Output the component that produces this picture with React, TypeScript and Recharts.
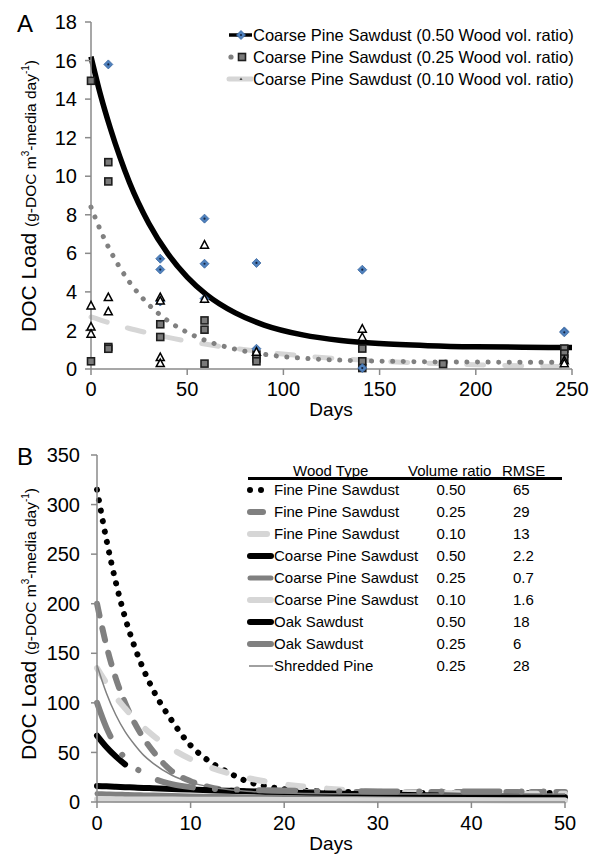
import React from 'react';
import { ComposedChart, Line, Scatter, XAxis, YAxis } from 'recharts';

const FONT = '"Liberation Sans", Arial, sans-serif';
const AXIS = '#8a8a8a';
const GRAY = '#808080';
const LIGHT = '#d6d6d6';

// ---- panel A: fitted curves (days / g-DOC m-3 day-1)
const fitDaysA = [0, 5, 10, 15, 20, 30, 40, 50, 60, 75, 90, 110, 130, 150, 175, 200, 225, 250];
const fitCoarse050 = [16.2, 14.2, 12.5, 11.0, 9.67, 7.56, 5.97, 4.77, 3.86, 2.91, 2.28, 1.77, 1.48, 1.32, 1.21, 1.15, 1.13, 1.11];
const fitCoarse025 = [8.4, 7.18, 6.14, 5.26, 4.51, 3.34, 2.5, 1.9, 1.46, 1.03, 0.76, 0.56, 0.46, 0.41, 0.37, 0.36, 0.35, 0.35];
const fitCoarse010 = [2.7, 2.54, 2.38, 2.24, 2.1, 1.86, 1.64, 1.45, 1.28, 1.06, 0.88, 0.68, 0.53, 0.41, 0.3, 0.22, 0.16, 0.12];

// ---- panel A: measurements
const obs050Days = [9, 36, 36, 36, 59, 59, 59, 86, 86, 141, 141, 246, 246];
const obs050Load = [15.8, 5.72, 5.16, 3.5, 7.8, 5.46, 3.65, 5.5, 1.05, 5.15, 0.05, 1.95, 1.9];
const obs025Days = [0, 0, 9, 9, 9, 9, 36, 36, 59, 59, 59, 86, 86, 86, 141, 141, 141, 183, 246, 246, 246];
const obs025Load = [14.95, 0.4, 10.73, 9.73, 1.14, 1.05, 2.32, 1.66, 2.52, 2.04, 0.28, 0.75, 0.55, 0.4, 1.06, 0.4, 0.05, 0.26, 1.06, 0.8, 0.54];
const obs010Days = [0, 0, 0, 9, 9, 36, 36, 36, 36, 59, 59, 86, 141, 141, 246, 246];
const obs010Load = [3.3, 2.2, 1.83, 3.73, 2.99, 3.73, 3.55, 0.62, 0.31, 6.45, 3.65, 0.9, 2.09, 1.66, 0.45, 0.3];

const ticksA = [0, 50, 100, 150, 200, 250];
const loadTicksA = [0, 2, 4, 6, 8, 10, 12, 14, 16, 18];

// ---- panel B: fitted curves
const fitDaysB = [0, 1, 2, 3, 4, 5, 6, 8, 10, 12, 14, 16, 18, 20, 25, 30, 35, 40, 45, 50];
const finePine050 = [315, 265, 222, 186, 157, 133, 113, 82, 57, 41, 30, 21, 16, 13, 10.5, 9.5, 9, 9, 9, 9];
const finePine025 = [200, 158, 125, 100, 80, 64, 51, 31, 21, 15, 12, 11, 10.5, 10, 10, 10, 10, 10, 10, 10];
const finePine010 = [135, 120, 106, 94.5, 84, 75, 67, 53.6, 43.3, 35.3, 29.2, 24.4, 20.7, 17.8, 13.2, 10.7, 9.4, 8.8, 8.4, 8.2];
const coarsePine050 = [16.2, 15.8, 15.4, 15.0, 14.6, 14.2, 13.9, 13.2, 12.5, 11.9, 11.3, 10.8, 10.2, 9.67, 8.55, 7.56, 6.7, 5.97, 5.33, 4.77];
const coarsePine025 = [8.4, 8.14, 7.88, 7.64, 7.4, 7.18, 6.96, 6.54, 6.14, 5.78, 5.43, 5.12, 4.81, 4.51, 3.88, 3.34, 2.88, 2.5, 2.17, 1.9];
const coarsePine010 = [2.7, 2.67, 2.63, 2.6, 2.57, 2.54, 2.5, 2.44, 2.38, 2.32, 2.27, 2.21, 2.16, 2.1, 1.98, 1.86, 1.75, 1.64, 1.54, 1.45];
const oak050 = [67, 55.5, 46, 38, null, null, null, null, null, null, null, null, null, null, null, null, null, null, null, null];
const oak025 = [100, 75, 57, 44, 35, 29, 24, 18, 15, 13.5, 12.8, 12.2, 11.8, 11.5, 11, 10.7, 10.5, 10.5, 10.5, 10.5];
const shredded025 = [138, 110, 88, 71, 58, 47, 39, 27, 19.8, 15.3, 12.5, 10.8, 9.7, 9.1, 8.3, 8, 8, 8, 8, 8];

const ticksB = [0, 10, 20, 30, 40, 50];
const loadTicksB = [0, 50, 100, 150, 200, 250, 300, 350];

const woodTypes = ['Fine Pine Sawdust', 'Fine Pine Sawdust', 'Fine Pine Sawdust', 'Coarse Pine Sawdust', 'Coarse Pine Sawdust', 'Coarse Pine Sawdust', 'Oak Sawdust', 'Oak Sawdust', 'Shredded Pine'];
const volumeRatios = ['0.50', '0.25', '0.10', '0.50', '0.25', '0.10', '0.50', '0.25', '0.25'];
const rmse = ['65', '29', '13', '2.2', '0.7', '1.6', '18', '6', '28'];

const curveA = fitDaysA.map((day, i) => ({ day, c050: fitCoarse050[i], c025: fitCoarse025[i], c010: fitCoarse010[i] }));
const pts = (days: number[], loads: number[]) => days.map((day, i) => ({ day, load: loads[i] }));
const curveB = fitDaysB.map((day, i) => ({
  day,
  f050: finePine050[i], f025: finePine025[i], f010: finePine010[i],
  c050: coarsePine050[i], c025: coarsePine025[i], c010: coarsePine010[i],
  o050: oak050[i], o025: oak025[i], s025: shredded025[i],
}));

// line styles for panel B, in legend order
const seriesB = [
  { key: 'f050', stroke: '#000', width: 6, dash: '0.1 10.5', cap: 'round' },
  { key: 'f025', stroke: GRAY, width: 6, dash: '12 13', cap: 'round' },
  { key: 'f010', stroke: LIGHT, width: 6, dash: '15 24', cap: 'round' },
  { key: 'c050', stroke: '#000', width: 6, dash: undefined, cap: 'round' },
  { key: 'c025', stroke: GRAY, width: 5, dash: undefined, cap: 'round' },
  { key: 'c010', stroke: LIGHT, width: 6, dash: undefined, cap: 'round' },
  { key: 'o050', stroke: '#000', width: 6, dash: undefined, cap: 'round' },
  { key: 'o025', stroke: GRAY, width: 6, dash: '36 22 0.1 22 0.1 22', cap: 'round' },
  { key: 's025', stroke: GRAY, width: 1.5, dash: undefined, cap: 'butt' },
];

const Diamond = (p: any) => (
  <g>
    <polygon points={`${p.cx},${p.cy - 4.5} ${p.cx + 4.5},${p.cy} ${p.cx},${p.cy + 4.5} ${p.cx - 4.5},${p.cy}`} fill="#4f81bd" stroke="#3b67a0" strokeWidth={0.8} />
    <circle cx={p.cx} cy={p.cy} r={1.1} fill="#15233f" />
  </g>
);
const Square = (p: any) => (
  <rect x={p.cx - 3.5} y={p.cy - 3.5} width={7} height={7} fill="#7a7a7a" stroke="#1e1e1e" strokeWidth={1.6} />
);
const Triangle = (p: any) => (
  <polygon points={`${p.cx},${p.cy - 4} ${p.cx + 4},${p.cy + 3.5} ${p.cx - 4},${p.cy + 3.5}`} fill="#fff" stroke="#000" strokeWidth={1.5} />
);

const axisLine = { stroke: AXIS, strokeWidth: 1.5 };
const tickStyle = { fill: '#000', fontSize: 20, fontFamily: FONT };

const YLabel = ({ x, y }: { x: number; y: number }) => (
  <div style={{ position: 'absolute', left: x, top: y, transform: 'translate(-50%, -50%) rotate(-90deg)', whiteSpace: 'nowrap', fontFamily: FONT, fontSize: 21, lineHeight: 1 }}>
    DOC Load <span style={{ fontSize: 15.5 }}>(g-DOC m<sup style={{ fontSize: 10 }}>3</sup>-media day<sup style={{ fontSize: 10 }}>-1</sup>)</span>
  </div>
);

const text = (s: string, left: number, top: number, size: number, extra: React.CSSProperties = {}) => (
  <div style={{ position: 'absolute', left, top, fontFamily: FONT, fontSize: size, lineHeight: 1, whiteSpace: 'nowrap', ...extra }}>{s}</div>
);

const legendA = [
  {
    label: 'Coarse Pine Sawdust (0.50 Wood vol. ratio)',
    icon: (
      <g>
        <line x1={3} y1={11} x2={26} y2={11} stroke="#000" strokeWidth={3.5} />
        <Diamond cx={15} cy={11} />
      </g>
    ),
  },
  {
    label: 'Coarse Pine Sawdust (0.25 Wood vol. ratio)',
    icon: (
      <g>
        <circle cx={5} cy={11} r={2.6} fill={GRAY} />
        <Square cx={16} cy={11} />
      </g>
    ),
  },
  {
    label: 'Coarse Pine Sawdust (0.10 Wood vol. ratio)',
    icon: (
      <g>
        <line x1={3} y1={11} x2={26} y2={11} stroke={LIGHT} strokeWidth={5} strokeLinecap="round" />
        <polygon points="15,9.5 16.5,12 13.5,12" fill="#444" />
      </g>
    ),
  },
];

const legendIconB = (i: number) => {
  const s = seriesB[i];
  if (i === 0) return (<g><circle cx={3} cy={11} r={3} fill="#000" /><circle cx={14} cy={11} r={3} fill="#000" /></g>);
  const x2 = i === 1 ? 16 : i === 2 ? 20 : i === 8 ? 26 : 24;
  return <line x1={i === 8 ? 2 : 3} y1={11} x2={x2} y2={11} stroke={s.stroke} strokeWidth={s.width} strokeLinecap={s.cap as any} />;
};

export default function App() {
  return (
    <div style={{ position: 'absolute', left: 0, top: 0, width: 598, height: 854, background: '#fff', overflow: 'hidden' }}>
      {/* Panel A */}
      <div style={{ position: 'absolute', left: 0, top: 0 }}>
        <ComposedChart width={598} height={430} data={curveA} margin={{ top: 22, right: 26, bottom: 0, left: 0 }}>
          <XAxis dataKey="day" type="number" domain={[0, 250]} ticks={ticksA} axisLine={axisLine} tickLine={axisLine} tickSize={6} tickMargin={7} tick={tickStyle} height={61} interval={0} />
          <YAxis type="number" domain={[0, 18]} ticks={loadTicksA} axisLine={axisLine} tickLine={axisLine} tickSize={6} tickMargin={8} tick={tickStyle} width={91} interval={0} />
          <Line dataKey="c010" type="monotone" stroke={LIGHT} strokeWidth={5} strokeDasharray="17 21" strokeLinecap="round" dot={false} activeDot={false} isAnimationActive={false} />
          <Line dataKey="c025" type="monotone" stroke={GRAY} strokeWidth={5} strokeDasharray="0.1 10.5" strokeLinecap="round" dot={false} activeDot={false} isAnimationActive={false} />
          <Line dataKey="c050" type="monotone" stroke="#000" strokeWidth={5.5} dot={false} activeDot={false} isAnimationActive={false} />
          <Scatter data={pts(obs025Days, obs025Load)} dataKey="load" shape={Square} isAnimationActive={false} />
          <Scatter data={pts(obs050Days, obs050Load)} dataKey="load" shape={Diamond} isAnimationActive={false} />
          <Scatter data={pts(obs010Days, obs010Load)} dataKey="load" shape={Triangle} isAnimationActive={false} />
        </ComposedChart>
      </div>
      {text('A', 17, 12, 24)}
      <YLabel x={28} y={196} />
      {text('Days', 331, 400, 19, { transform: 'translateX(-50%)' })}
      <div style={{ position: 'absolute', left: 226, top: 24 }}>
        {legendA.map((l) => (
          <div key={l.label} style={{ display: 'flex', alignItems: 'center', height: 22 }}>
            <svg width={27} height={22}>{l.icon}</svg>
            <span style={{ fontFamily: FONT, fontSize: 16.5, lineHeight: '22px', whiteSpace: 'nowrap' }}>{l.label}</span>
          </div>
        ))}
      </div>

      {/* Panel B */}
      <div style={{ position: 'absolute', left: 0, top: 430 }}>
        <ComposedChart width={598} height={424} data={curveB} margin={{ top: 25, right: 33, bottom: 0, left: 0 }}>
          <XAxis dataKey="day" type="number" domain={[0, 50]} ticks={ticksB} axisLine={axisLine} tickLine={axisLine} tickSize={6} tickMargin={8} tick={tickStyle} height={52} interval={0} />
          <YAxis type="number" domain={[0, 350]} ticks={loadTicksB} axisLine={axisLine} tickLine={axisLine} tickSize={6} tickMargin={11} tick={tickStyle} width={97} interval={0} />
          {seriesB.map((s) => (
            <Line key={s.key} dataKey={s.key} type="monotone" stroke={s.stroke} strokeWidth={s.width} strokeDasharray={s.dash} strokeLinecap={s.cap as any} dot={false} activeDot={false} isAnimationActive={false} connectNulls={false} />
          ))}
        </ComposedChart>
      </div>
      {text('B', 17, 445, 24)}
      <YLabel x={28} y={624} />
      {text('Days', 331, 834, 19, { transform: 'translateX(-50%)' })}

      {/* Panel B legend table */}
      <div style={{ position: 'absolute', left: 248, top: 477, width: 314, height: 3, background: '#000' }} />
      {text('Wood Type', 293, 463, 15, { textDecoration: 'underline' })}
      {text('Volume ratio', 408, 463, 15)}
      {text('RMSE', 502, 463, 15)}
      {woodTypes.map((w, i) => {
        const yc = 490 + i * 22;
        return (
          <React.Fragment key={i}>
            <svg style={{ position: 'absolute', left: 247, top: yc - 11 }} width={28} height={22}>{legendIconB(i)}</svg>
            {text(w, 274, yc - 8, 15)}
            {text(volumeRatios[i], 451, yc - 8, 15, { transform: 'translateX(-50%)' })}
            {text(rmse[i], 513, yc - 8, 15)}
          </React.Fragment>
        );
      })}
    </div>
  );
}
